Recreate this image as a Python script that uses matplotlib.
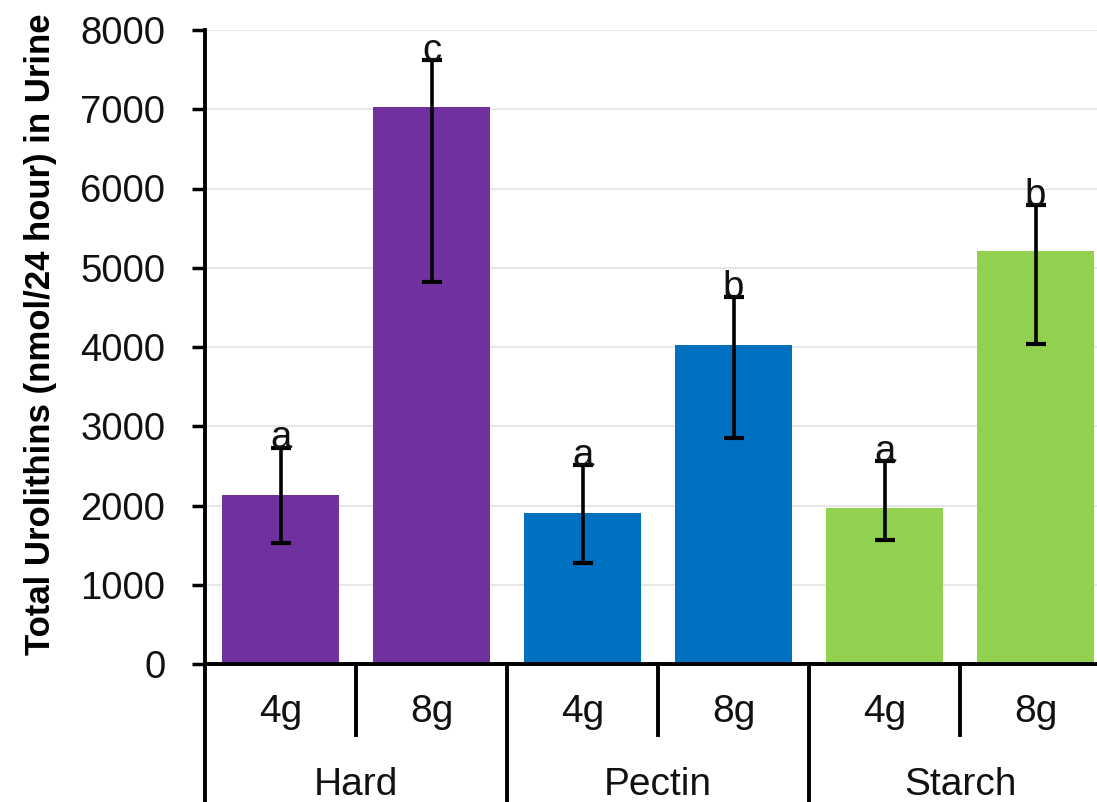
import matplotlib
matplotlib.use("Agg")
import matplotlib.pyplot as plt
import matplotlib.transforms as mtransforms
import numpy as np

groups = ["Hard", "Pectin", "Starch"]
doses = ["4g", "8g"]
values = [2130, 7030, 1905, 4025, 1970, 5210]
err_upper = [600, 590, 600, 605, 590, 580]
err_lower = [600, 2210, 630, 1170, 405, 1175]
letters = ["a", "c", "a", "b", "a", "b"]
colors = ["#7030A0", "#7030A0", "#0070C0", "#0070C0", "#92D050", "#92D050"]
yticks = [0, 1000, 2000, 3000, 4000, 5000, 6000, 7000, 8000]

plt.rcParams['font.family'] = ['Liberation Sans', 'DejaVu Sans']
W, H = 1097, 802
fig = plt.figure(figsize=(W/100, H/100), dpi=100)
ax = fig.add_axes([205/W, 138/H, 906/W, 634/H])

x = np.arange(len(values))
ax.bar(x, values, width=0.77, color=colors, zorder=2)
ax.errorbar(x, values, yerr=[err_lower, err_upper], fmt='none', ecolor='black',
            elinewidth=2.6, capsize=7, capthick=3, zorder=3)
for xi, v, eu, lab in zip(x, values, err_upper, letters):
    ax.text(xi, v + eu - 10, lab, ha='center', va='baseline', fontsize=27.5, color='#111111', zorder=4)

ax.set_xlim(-0.5, 5.5)
ax.set_ylim(0, 8000)
ax.set_yticks(yticks)
ax.set_yticklabels([str(t) for t in yticks], fontsize=27.5, color='#111111')
ax.yaxis.grid(True, color='#e3e3e3', linewidth=1.2, zorder=0)
ax.set_axisbelow(True)
ax.tick_params(axis='y', length=9.5, width=2.5, pad=19, direction='out')
ax.set_xticks([])
for s in ['top', 'right']:
    ax.spines[s].set_visible(False)
ax.spines['left'].set_linewidth(2.8)
ax.spines['bottom'].set_linewidth(2.8)

ax.set_ylabel("Total Urolithins (nmol/24 hour) in Urine", fontsize=25, fontweight='bold')
ax.yaxis.set_label_coords(-0.163, 0.52)

trans = mtransforms.blended_transform_factory(ax.transData, ax.transAxes)
# short separators between doses
for g in range(3):
    xb = 2*g + 0.5
    ax.plot([xb, xb], [0, -0.112], transform=trans, color='black', lw=2.8, clip_on=False)
# long separators between groups, including left edge
for xb in [-0.5, 1.5, 3.5]:
    ax.plot([xb, xb], [0, -0.3], transform=trans, color='black', lw=2.8, clip_on=False)

for i in range(len(values)):
    ax.text(i, -0.0757, doses[i % 2], transform=trans, ha='center', va='center',
            fontsize=28, color='#111111')
for g, name in enumerate(groups):
    ax.text(2*g + 0.5, -0.191, name, transform=trans, ha='center', va='center',
            fontsize=28, color='#111111')

fig.savefig("out.png", dpi=100)
